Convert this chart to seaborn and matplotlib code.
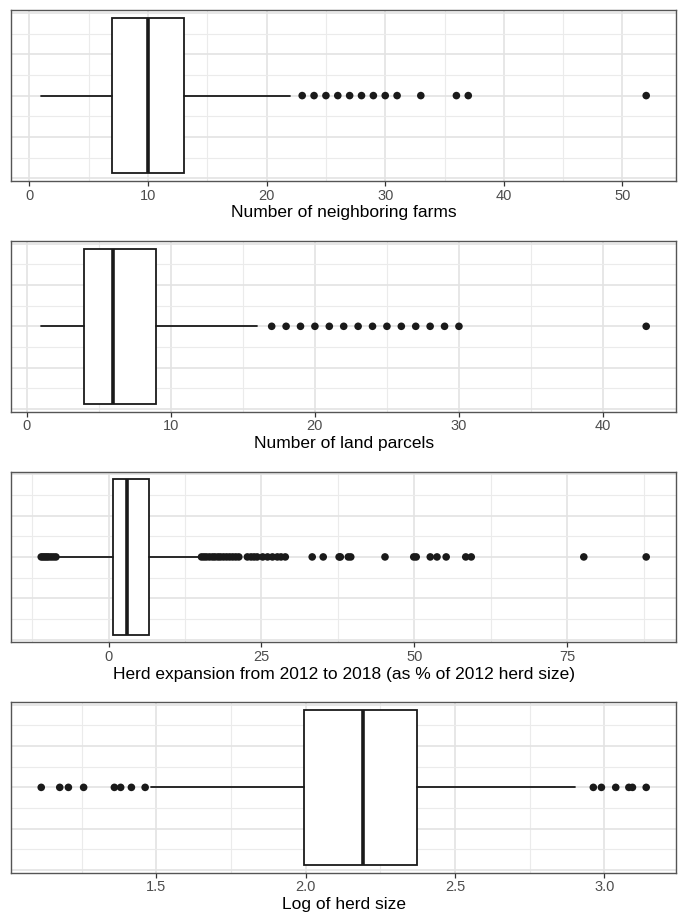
import numpy as np
import matplotlib.pyplot as plt
import seaborn as sns

# --- data ---
labels = ['Number of neighboring farms',
          'Number of land parcels',
          'Herd expansion from 2012 to 2018 (as % of 2012 herd size)',
          'Log of herd size']

q1 = [7, 4, 0.75, 1.995]
med = [10, 6, 3.1, 2.19]
q3 = [13, 9, 6.6, 2.372]
whislo = [1, 1, -8.1, 1.48]
whishi = [22, 16, 15.1, 2.902]

farms_out = [23, 24, 25, 26, 27, 28, 29, 30, 31, 33, 36, 37, 52]
parcels_out = [17, 18, 19, 20, 21, 22, 23, 24, 25, 26, 27, 28, 29, 30, 43]
expansion_out = [-11.0, -10.7, -10.4, -10.1, -9.8, -9.4, -9.0, -8.6,
                 15.2, 15.6, 16.0, 16.5, 17.0, 17.4, 17.9, 18.3, 18.8, 19.3,
                 19.8, 20.3, 20.8, 21.3, 22.7, 23.3, 23.8, 24.3,
                 25.2, 26.0, 26.8, 27.6, 28.2, 28.9, 33.3, 35.1, 37.7, 37.9,
                 39.2, 39.6, 45.2, 49.9, 50.3, 52.6, 53.7, 55.2, 58.4, 59.3,
                 77.7, 87.9]
logherd_out = [1.114, 1.176, 1.205, 1.256, 1.359, 1.38, 1.416, 1.462,
               2.963, 2.99, 3.038, 3.082, 3.094, 3.14]
outliers = [farms_out, parcels_out, expansion_out, logherd_out]

major_ticks = [[0, 10, 20, 30, 40, 50],
               [0, 10, 20, 30, 40],
               [0, 25, 50, 75],
               [1.5, 2.0, 2.5, 3.0]]
minor_ticks = [[5, 15, 25, 35, 45],
               [5, 15, 25, 35],
               [-12.5, 12.5, 37.5, 62.5, 87.5],
               [1.25, 1.75, 2.25, 2.75]]
tick_fmt = ['{:g}', '{:g}', '{:g}', '{:.1f}']

sns.set_theme(style='white')
plt.rcParams['font.family'] = ['Liberation Sans', 'DejaVu Sans']

fig = plt.figure(figsize=(6.78, 9.13), dpi=100)
bottoms = [0.8018, 0.5491, 0.2965, 0.0441]
ink = '#1a1a1a'

for i in range(4):
    ax = fig.add_axes([0.0162, bottoms[i], 0.9815, 0.187])
    stats = [dict(q1=q1[i], med=med[i], q3=q3[i],
                  whislo=whislo[i], whishi=whishi[i], fliers=[])]
    ax.bxp(stats, positions=[0], widths=0.75, orientation='horizontal',
           showfliers=False, showcaps=False, patch_artist=True,
           boxprops=dict(facecolor='white', edgecolor=ink, lw=1.3),
           medianprops=dict(color=ink, lw=2.6),
           whiskerprops=dict(color=ink, lw=1.3),
           manage_ticks=False, zorder=3)
    out = outliers[i]
    sns.scatterplot(x=out, y=np.zeros(len(out)), ax=ax, color=ink,
                    s=30, edgecolor='none', zorder=4)

    lo = min(min(out), whislo[i])
    hi = max(max(out), whishi[i])
    pad = 0.05 * (hi - lo)
    ax.set_xlim(lo - pad, hi + pad)
    ax.set_ylim(-0.4125, 0.4125)

    ax.set_xticks(major_ticks[i])
    ax.set_xticklabels([tick_fmt[i].format(t) for t in major_ticks[i]])
    ax.set_xticks(minor_ticks[i], minor=True)
    ax.set_yticks([-0.4, -0.2, 0, 0.2, 0.4])
    ax.set_yticks([-0.3, -0.1, 0.1, 0.3], minor=True)

    ax.grid(which='major', color='#E3E3E3', lw=1.2, zorder=0)
    ax.grid(which='minor', color='#EBEBEB', lw=0.8, zorder=0)
    ax.set_axisbelow(True)

    ax.tick_params(axis='x', which='major', length=3.5, width=0.9,
                   color='#333333', labelcolor='#4D4D4D', labelsize=10.5,
                   pad=2, bottom=True)
    ax.tick_params(axis='x', which='minor', length=0)
    ax.tick_params(axis='y', which='both', length=0, labelleft=False)
    for sp in ax.spines.values():
        sp.set_color('#555555')
        sp.set_linewidth(1.0)

    ax.set_xlabel(labels[i], fontsize=12.5, color='black', labelpad=2)
    ax.set_ylabel('')

fig.savefig('out.png', dpi=100)
